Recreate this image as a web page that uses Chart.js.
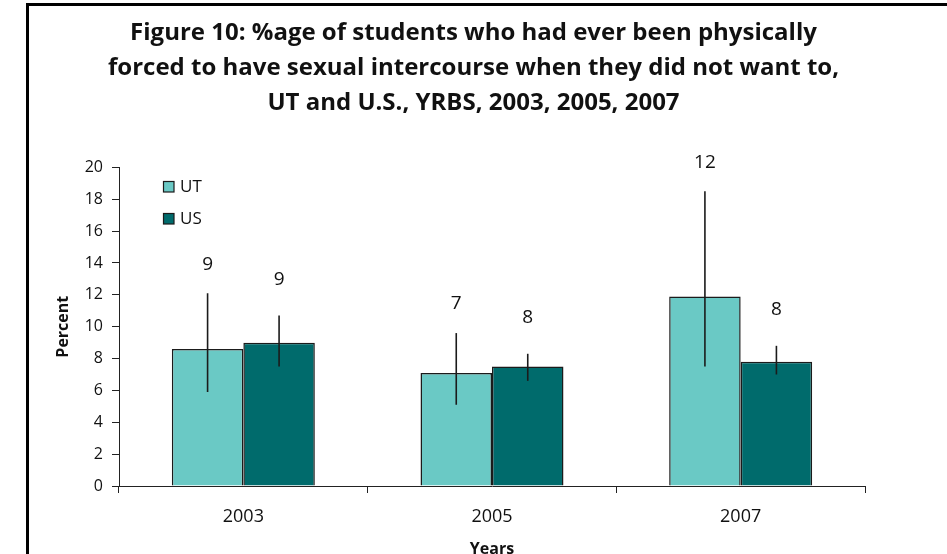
<!DOCTYPE html>
<html>
<head>
<meta charset="utf-8">
<script src="https://cdn.jsdelivr.net/npm/chart.js@4"></script>
<style>
  html,body{margin:0;padding:0;background:#fff;overflow:hidden}
  #wrap{position:relative;width:947px;height:572px}
</style>
</head>
<body>
<div id="wrap"><canvas id="c" width="947" height="572"></canvas></div>
<script>
// ── data ────────────────────────────────────────────────────────────────
const years     = ["2003", "2005", "2007"];
const utValues  = [8.6, 7.1, 11.9];
const usValues  = [9.0, 7.5, 7.8];
const utLow     = [5.9, 5.1, 7.5];
const utHigh    = [12.1, 9.6, 18.5];
const usLow     = [7.5, 6.6, 7.0];
const usHigh    = [10.7, 8.3, 8.8];
const utLabels  = ["9", "7", "12"];
const usLabels  = ["9", "8", "8"];
const yTicks    = [0, 2, 4, 6, 8, 10, 12, 14, 16, 18, 20];
const titleLines = [
  "Figure 10: %age of students who had ever been physically",
  "forced to have sexual intercourse when they did not want to,",
  "UT and U.S., YRBS, 2003, 2005, 2007"
];

const C = { ut:"#6AC9C5", us:"#006B6C", edge:"#1b1b1b", ink:"#111", axis:"#222" };
const FONT = "'Open Sans', 'DejaVu Sans', sans-serif";

// error bars + value labels over each bar
const errorBars = {
  id:"errorBars",
  afterDatasetsDraw(chart){
    const { ctx, scales:{ y } } = chart;
    chart.data.datasets.forEach((ds, i) => {
      chart.getDatasetMeta(i).data.forEach((bar, j) => {
        const top = y.getPixelForValue(ds.high[j]);
        const bot = y.getPixelForValue(ds.low[j]);
        ctx.save();
        ctx.strokeStyle = C.edge; ctx.lineWidth = 1.6;
        ctx.beginPath(); ctx.moveTo(bar.x, top); ctx.lineTo(bar.x, bot); ctx.stroke();
        ctx.fillStyle = C.ink; ctx.font = `19px ${FONT}`;
        ctx.textAlign = "center"; ctx.textBaseline = "middle";
        ctx.fillText(ds.valueLabels[j], bar.x, top - ds.labelGap);
        ctx.restore();
      });
    });
  }
};

// little boxed legend inside the plot, top-left
const legendBox = {
  id:"legendBox",
  afterDraw(chart){
    const { ctx } = chart;
    chart.data.datasets.forEach((ds, i) => {
      const yy = 181 + i * 32;
      ctx.save();
      ctx.fillStyle = ds.backgroundColor; ctx.fillRect(163.5, yy + 0.5, 10.5, 10.5);
      ctx.strokeStyle = C.edge; ctx.lineWidth = 1.2; ctx.strokeRect(163.5, yy + 0.5, 10.5, 10.5);
      ctx.fillStyle = C.ink; ctx.font = `17px ${FONT}`;
      ctx.textAlign = "left"; ctx.textBaseline = "middle";
      ctx.fillText(ds.label, 180, yy + 6);
      ctx.restore();
    });
  }
};

// the figure frame (left + top, runs off the page)
const frame = {
  id:"frame",
  afterDraw(chart){
    const { ctx, width, height } = chart;
    ctx.save();
    ctx.strokeStyle = "#000"; ctx.lineWidth = 3;
    ctx.beginPath(); ctx.moveTo(27.5, height); ctx.lineTo(27.5, 4.5); ctx.lineTo(width, 4.5); ctx.stroke();
    ctx.restore();
  }
};

new Chart(document.getElementById("c"), {
  type:"bar",
  data:{
    labels: years,
    datasets:[
      { label:"UT", data:utValues, low:utLow, high:utHigh, valueLabels:utLabels, labelGap:29,
        backgroundColor:C.ut, borderColor:C.edge, borderWidth:1.5,
        categoryPercentage:0.575, barPercentage:1.0 },
      { label:"US", data:usValues, low:usLow, high:usHigh, valueLabels:usLabels, labelGap:36,
        backgroundColor:C.us, borderColor:C.edge, borderWidth:1.5,
        categoryPercentage:0.575, barPercentage:1.0 },
    ]
  },
  options:{
    responsive:false, animation:false, devicePixelRatio:1,
    layout:{ padding:{ left:0, right:0, top:0, bottom:0 } },
    plugins:{
      legend:{ display:false },
      tooltip:{ enabled:false },
      title:{ display:true, text:titleLines, color:C.ink,
        font:{ family:FONT, size:24, weight:"bold", lineHeight:1.45 },
        padding:{ top:16, bottom:47 } },
    },
    scales:{
      x:{
        grid:{ display:true, drawOnChartArea:false, drawTicks:true, tickLength:7, color:C.axis, offset:true },
        border:{ display:true, color:C.axis, width:1 },
        ticks:{ color:C.ink, padding:13, font:{ family:FONT, size:18 } },
        title:{ display:true, text:"Years", color:C.ink, font:{ family:FONT, size:16, weight:"bold" },
          padding:{ top:0, bottom:13 } },
        afterFit(s){ s.height = 572 - 486; },
      },
      y:{
        min:0, max:20,
        afterBuildTicks(s){ s.ticks = yTicks.map(v => ({ value:v })); },
        grid:{ display:true, drawOnChartArea:false, drawTicks:true, tickLength:7, color:C.axis },
        border:{ display:true, color:C.axis, width:1 },
        ticks:{ color:C.ink, padding:9, font:{ family:FONT, size:16 } },
        title:{ display:true, text:"Percent", color:C.ink, font:{ family:FONT, size:16, weight:"bold" },
          padding:{ top:54, bottom:0 } },
        afterFit(s){ s.width = 119; },
      },
      // empty right gutter so the title centres on the whole page
      gutter:{
        type:"linear", position:"right", display:true,
        grid:{ display:false }, border:{ display:false }, ticks:{ display:false },
        afterFit(s){ s.width = 947 - 865; },
      }
    }
  },
  plugins:[errorBars, legendBox, frame]
});
</script>
</body>
</html>
